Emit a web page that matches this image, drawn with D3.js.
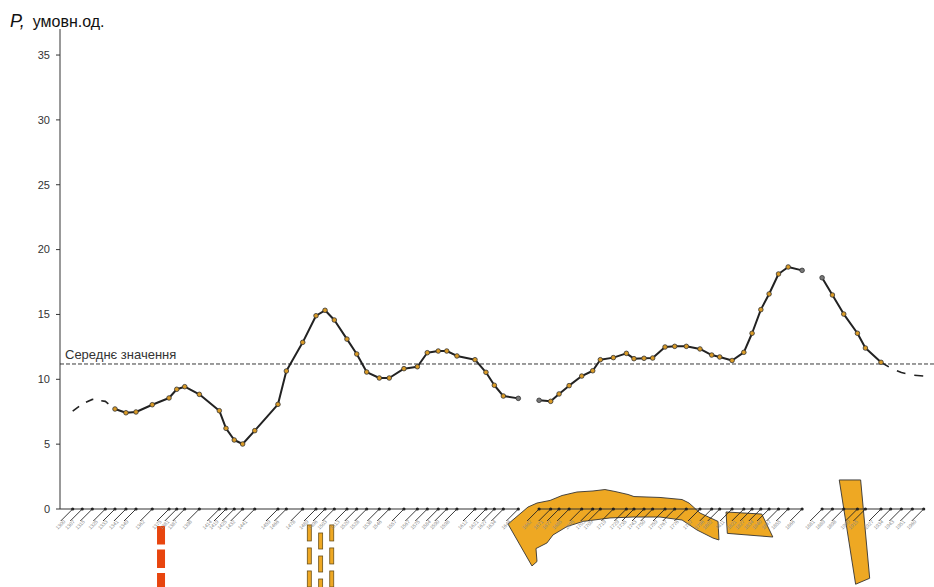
<!DOCTYPE html>
<html><head><meta charset="utf-8">
<script src="https://cdn.jsdelivr.net/npm/d3@7/dist/d3.min.js"></script>
<style>
html,body{margin:0;padding:0;background:#fff;}
svg{display:block;font-family:"Liberation Sans",Arial,sans-serif;}
</style></head>
<body>
<svg id="chart" width="934" height="587"></svg>
<script>
// Time (years) and index values, split into the three observed runs
const yearsA = [1300,1307.4,1315.2,1325.3,1332.8,1341.3,1349.1,1361.7,1374.7,1380.7,1386.9,1398.2,1413.7,1418.9,1425.3,1431.8,1441.2,1459.2,1465.7,1478.4,1488.7,1495.7,1502.9,1512.7,1520.3,1528.0,1537.8,1545.5,1556.9,1567.3,1575.0,1583.5,1590.1,1598.0,1612.0,1620.5,1627.0,1634.0,1645.6];
const valuesA = [7.55,8.1,8.45,8.3,7.71,7.42,7.48,8.04,8.56,9.23,9.43,8.84,7.58,6.22,5.32,5.01,6.04,8.07,10.64,12.85,14.9,15.32,14.57,13.1,11.95,10.56,10.1,10.1,10.82,10.97,12.05,12.18,12.18,11.8,11.51,10.54,9.54,8.71,8.53];
const estimatedA = 4; // first points are estimates (dashed, no markers)

const yearsB = [1661.7,1670.7,1677.2,1685.0,1694.8,1703.3,1709.2,1719.3,1729.4,1735.3,1743.1,1749.8,1759.4,1766.9,1775.9,1786.5,1795.6,1801.8,1811.4,1820.5,1826.9,1833.7,1840.1,1847.4,1854.9,1865.7];
const valuesB = [8.38,8.30,8.87,9.51,10.25,10.66,11.51,11.67,12.0,11.59,11.62,11.64,12.49,12.54,12.54,12.34,11.87,11.72,11.45,12.08,13.55,15.37,16.58,18.12,18.66,18.40];

const yearsC = [1881.2,1889.2,1898.0,1908.6,1914.8,1926.9,1934.4,1942.7,1951.2,1960.0];
const valuesC = [17.83,16.5,15.03,13.55,12.41,11.31,10.87,10.52,10.33,10.25];
const estimatedFromC = 5; // tail after this index is an estimate (dashed)

const yTickValues = [0,5,10,15,20,25,30,35];
const meanValue = 11.18;
const meanLabel = "Середнє значення";
const yTitleSymbol = "P,";
const yTitleUnits = "умовн.од.";

// Event markers drawn under the time axis: [year, value] vertices
const eventBlocks = [
  [[1637.6,-1.16],[1653.1,0.15],[1660.1,0.46],[1670.2,0.66],[1679.5,1.04],[1691.1,1.31],[1703.5,1.39],[1712.8,1.50],[1720.6,1.35],[1730.7,1.12],[1735.3,0.96],[1755.5,0.89],[1772.6,0.73],[1778.0,0.46],[1781.8,0.12],[1786.5,-0.31],[1800.5,-0.96],[1801.2,-2.39],[1796.6,-2.24],[1784.2,-1.62],[1772.6,-0.85],[1755.5,-0.62],[1734.5,-0.62],[1716.7,-0.69],[1695.8,-0.96],[1683.4,-1.35],[1672.5,-2.00],[1667.8,-2.62],[1659.3,-3.05],[1660.1,-4.05],[1656.2,-4.39]],
  [[1806.7,-0.23],[1834.4,-0.39],[1843.0,-2.16],[1807.7,-1.88]],
  [[1894.5,2.24],[1911.1,2.24],[1918.1,-5.34],[1907.2,-5.80]]
];
// Dashed vertical event bars: year, top value
const redBars = [{year:1368.5, top:-1.31}];
const amberBars = [{year:1483.5, top:-1.23},{year:1492.3, top:-1.85},{year:1500.9, top:-1.23}];

const W = 934, H = 587;
const svg = d3.select("#chart");
const x = d3.scaleLinear().domain([1300,1960]).range([72.7,923.7]);
const y = d3.scaleLinear().domain([0,37]).range([509,29.1]);
const axisX = 60;

// y axis
svg.append("line").attr("x1",axisX).attr("x2",axisX).attr("y1",y(37)).attr("y2",y(0))
  .attr("stroke","#777").attr("stroke-width",1.5);
yTickValues.forEach(v=>{
  svg.append("line").attr("x1",axisX-4).attr("x2",axisX).attr("y1",y(v)).attr("y2",y(v))
    .attr("stroke","#333").attr("stroke-width",1);
  svg.append("text").attr("x",axisX-10).attr("y",y(v)).attr("dy","0.35em")
    .attr("text-anchor","end").attr("font-size",11).attr("fill","#333").text(v);
});

// y title
const tt = svg.append("text").attr("x",10).attr("y",27).attr("fill","#111");
tt.append("tspan").attr("font-style","italic").attr("font-size",18).text(yTitleSymbol);
tt.append("tspan").attr("dx",8).attr("font-size",16).text(yTitleUnits);

// mean line
svg.append("line").attr("x1",axisX).attr("x2",W).attr("y1",y(meanValue)).attr("y2",y(meanValue))
  .attr("stroke","#222").attr("stroke-width",0.9).attr("stroke-dasharray","4,2");
svg.append("text").attr("x",65).attr("y",y(meanValue)-5).attr("font-size",13).attr("fill","#333").text(meanLabel);

// event markers (under the time axis)
const poly = d3.line().x(d=>x(d[0])).y(d=>y(d[1])).curve(d3.curveLinearClosed);
eventBlocks.forEach(p=>{
  svg.append("path").attr("d",poly(p)).attr("fill","#eea823").attr("stroke","#333").attr("stroke-width",0.9);
});
redBars.forEach(b=>{
  svg.append("line").attr("x1",x(b.year)).attr("x2",x(b.year)).attr("y1",y(b.top)).attr("y2",H+5)
    .attr("stroke","#e8450e").attr("stroke-width",8).attr("stroke-dasharray","18.5,5");
});
amberBars.forEach(b=>{
  const cx = x(b.year);
  let top = y(b.top);
  while(top < H){
    svg.append("rect").attr("x",cx-2).attr("y",top).attr("width",4).attr("height",16)
      .attr("fill","#eea823").attr("stroke","#6b5018").attr("stroke-width",0.8);
    top += 23;
  }
});

// time axis, one run per data segment, with slanted tick labels
function timeAxis(years, startX){
  const g = svg.append("g");
  g.append("line").attr("x1",startX!=null?startX:x(years[0])).attr("x2",x(years[years.length-1]))
    .attr("y1",y(0)).attr("y2",y(0)).attr("stroke","#333").attr("stroke-width",1.2);
  years.forEach(yr=>{
    const px = x(yr), py = y(0);
    g.append("line").attr("x1",px).attr("y1",py).attr("x2",px-12).attr("y2",py+12)
      .attr("stroke","#222").attr("stroke-width",0.9);
    g.append("circle").attr("cx",px).attr("cy",py).attr("r",1.6).attr("fill","#222");
    g.append("text").attr("transform",`translate(${px-7},${py+13}) rotate(-45)`)
      .attr("font-size",5).attr("fill","#888").attr("text-anchor","end").text(Math.round(yr));
  });
}
timeAxis(yearsA, axisX);
timeAxis(yearsB);
timeAxis(yearsC);

// series lines
const line = d3.line().x(d=>x(d[0])).y(d=>y(d[1]));
function series(years, values, dashedBefore, dashedAfter){
  const pts = years.map((yr,i)=>[yr,values[i]]);
  const solidStart = dashedBefore||0;
  const solidEnd = dashedAfter!=null ? dashedAfter : pts.length-1;
  if(solidStart>0){
    svg.append("path").attr("d",line(pts.slice(0,solidStart+1))).attr("fill","none")
      .attr("stroke","#222").attr("stroke-width",1.6).attr("stroke-dasharray","8,8");
  }
  if(solidEnd<pts.length-1){
    svg.append("path").attr("d",line(pts.slice(solidEnd))).attr("fill","none")
      .attr("stroke","#222").attr("stroke-width",1.6).attr("stroke-dasharray","9,9");
  }
  const solid = pts.slice(solidStart, solidEnd+1);
  svg.append("path").attr("d",line(solid)).attr("fill","none")
    .attr("stroke","#222").attr("stroke-width",2).attr("stroke-linejoin","round");
  solid.forEach((p,i)=>{
    const edge = (i===0 || i===solid.length-1) && !(dashedBefore && i===0) && !(dashedAfter!=null && i===solid.length-1);
    svg.append("circle").attr("cx",x(p[0])).attr("cy",y(p[1])).attr("r",2.3)
      .attr("fill", edge ? "#777" : "#d99a26").attr("stroke","#333").attr("stroke-width",0.8);
  });
}
series(yearsA, valuesA, estimatedA, null);
series(yearsB, valuesB, 0, null);
series(yearsC, valuesC, 0, estimatedFromC);
</script>
</body></html>
